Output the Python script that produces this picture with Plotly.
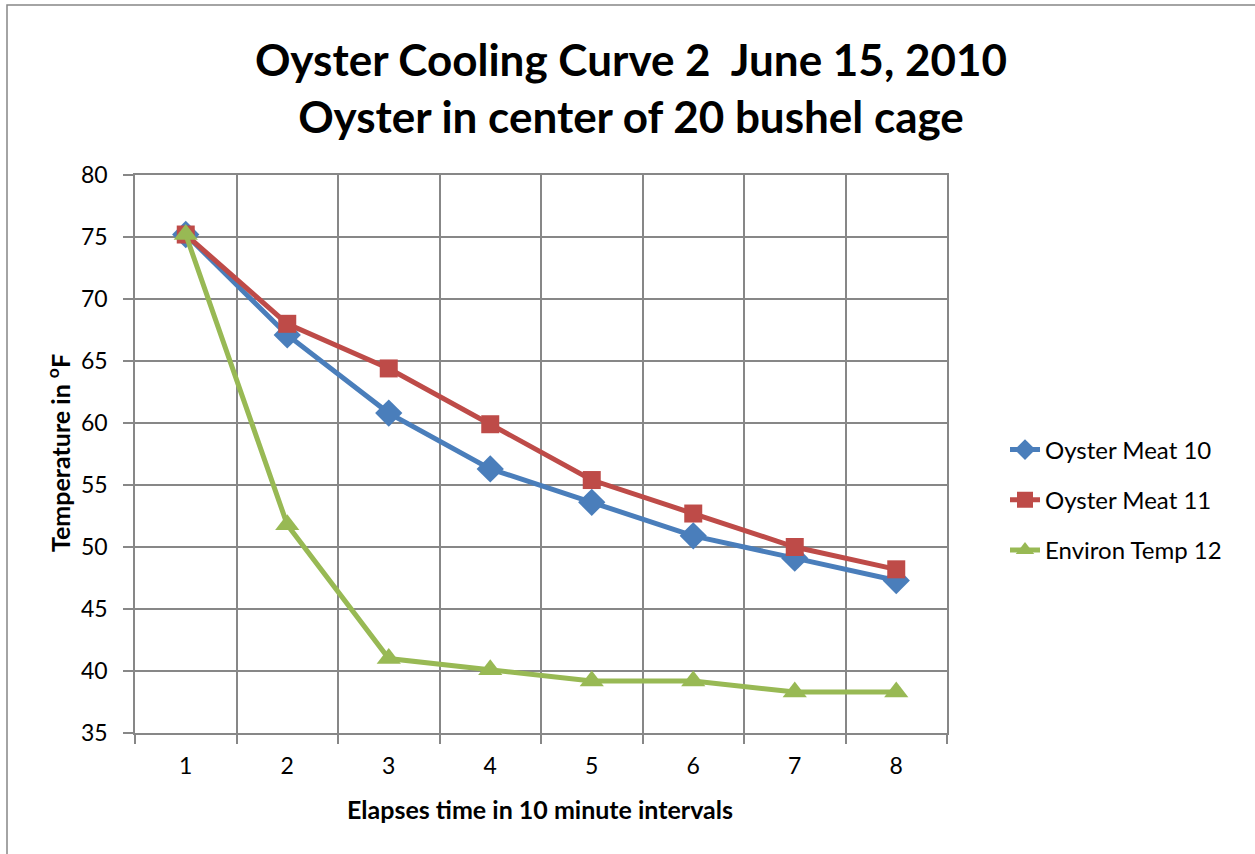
import plotly.graph_objects as go

# Elapsed-time categories (10 minute steps)
intervals = ["1", "2", "3", "4", "5", "6", "7", "8"]

# Temperature readings in degrees F
oyster_meat_10 = [75.2, 67.1, 60.8, 56.3, 53.6, 50.9, 49.1, 47.3]
oyster_meat_11 = [75.2, 68.0, 64.4, 59.9, 55.4, 52.7, 50.0, 48.2]
environ_temp_12 = [75.2, 51.8, 41.0, 40.1, 39.2, 39.2, 38.3, 38.3]

y_ticks = [35, 40, 45, 50, 55, 60, 65, 70, 75, 80]

FONT = "Lato, 'Open Sans', sans-serif"
GRID = "#878787"

# plot-area geometry in pixels
W, H = 1255, 854
L, R, T, B = 135, 308, 175, 121
PW, PH = W - L - R, H - T - B


def px_x(x):
    return (x - L) / PW


def px_y(y):
    return (H - B - y) / PH


series = [
    ("Oyster Meat 10", oyster_meat_10, "#4A7EBB", "diamond", 21),
    ("Oyster Meat 11", oyster_meat_11, "#BE4B48", "square", 18),
    ("Environ Temp 12", environ_temp_12, "#98B954", "triangle-up", 21),
]

fig = go.Figure()
for name, vals, color, symbol, size in series:
    fig.add_trace(go.Scatter(
        x=intervals, y=vals, name=name, mode="lines+markers",
        legendgroup=name,
        line=dict(color=color, width=5),
        marker=dict(symbol=symbol, size=size, color=color, line=dict(width=0)),
    ))

fig.update_layout(
    width=W, height=H,
    margin=dict(l=L, r=R, t=T, b=B),
    paper_bgcolor="white", plot_bgcolor="white",
    font=dict(family=FONT, color="black"),
    legend=dict(
        x=px_x(1005), xanchor="left", y=px_y(500), yanchor="middle",
        font=dict(size=24, family=FONT), tracegroupgap=16,
        bgcolor="rgba(0,0,0,0)",
    ),
    showlegend=True,
)

# Title
fig.add_annotation(
    text="<b>Oyster Cooling Curve 2  June 15, 2010<br>Oyster in center of 20 bushel cage</b>",
    xref="paper", yref="paper", x=px_x(631), y=px_y(87),
    xanchor="center", yanchor="middle", showarrow=False,
    font=dict(size=44, family=FONT),
)
# Axis titles
fig.add_annotation(
    text="<b>Elapses time in 10 minute intervals</b>",
    xref="paper", yref="paper", x=px_x(540), y=px_y(809),
    xanchor="center", yanchor="middle", showarrow=False,
    font=dict(size=25, family=FONT),
)
fig.add_annotation(
    text="<b>Temperature in <sup>o</sup>F</b>",
    xref="paper", yref="paper", x=px_x(58), y=px_y(453),
    xanchor="center", yanchor="middle", showarrow=False, textangle=-90,
    font=dict(size=25, family=FONT),
)

fig.update_xaxes(
    type="category", range=[-0.5, 7.5], tickson="boundaries",
    showgrid=True, gridcolor=GRID, gridwidth=1.5,
    showline=True, linecolor=GRID, linewidth=1.5, mirror=True,
    ticks="outside", ticklen=9, tickcolor=GRID, tickwidth=1.5,
    tickfont=dict(size=23, family=FONT), ticklabelstandoff=12,
)
fig.update_yaxes(
    range=[35, 80], tickvals=y_ticks,
    showgrid=True, gridcolor=GRID, gridwidth=1.5,
    showline=True, linecolor=GRID, linewidth=1.5, mirror=True,
    ticks="outside", ticklen=10, tickcolor=GRID, tickwidth=1.5,
    tickfont=dict(size=23, family=FONT), ticklabelstandoff=11,
    zeroline=False,
)

# Chart-area border (left and top edges run along the page)
fig.add_shape(type="rect", xref="paper", yref="paper",
              x0=px_x(7), x1=1.5, y0=-0.5, y1=px_y(5),
              line=dict(color=GRID, width=1.5), fillcolor="rgba(0,0,0,0)",
              layer="below")

fig.write_html("out.html")
